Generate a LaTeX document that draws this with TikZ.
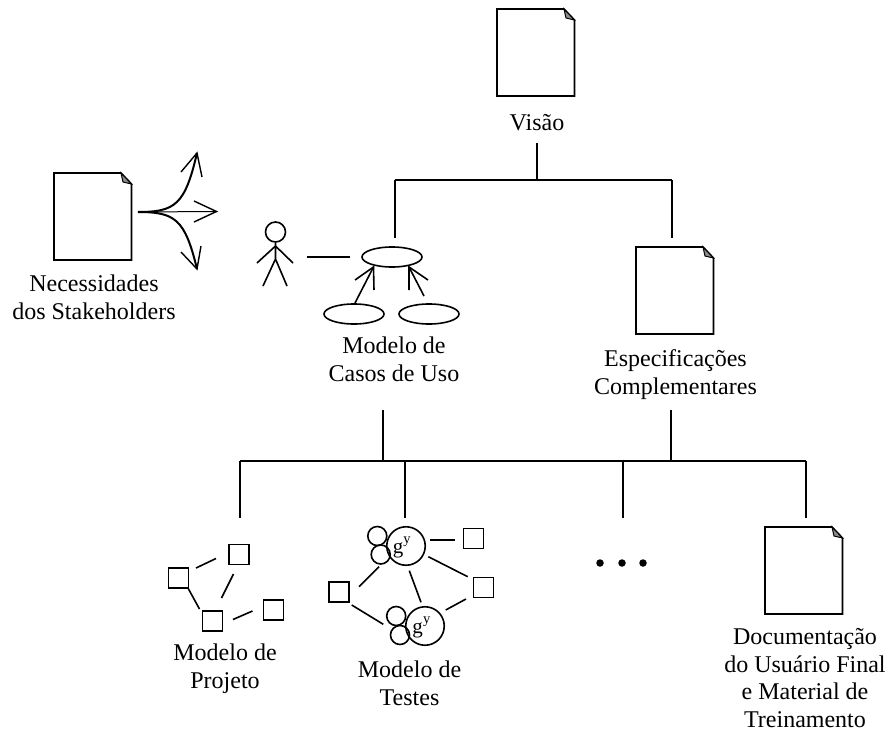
\documentclass[tikz,border=0pt]{standalone}
\usepackage{fontspec}
\setmainfont{Liberation Serif}
\begin{document}
\begin{tikzpicture}[x=1pt,y=-1pt,line width=1.6pt,
  lbl/.style={align=center,anchor=base,font=\fontsize{24}{27.7}\selectfont,inner sep=0pt},
  sq/.style={draw,minimum size=20pt,inner sep=0pt},
  dot/.style={circle,fill,inner sep=0pt,minimum size=7.5pt},
  lobe/.style={draw,circle,inner sep=0pt,minimum size=19pt},
  bigc/.style={draw,circle,inner sep=0pt,minimum size=38.5pt},
  gl/.style={anchor=base,font=\fontsize{21}{25}\selectfont,inner sep=0pt},
  yl/.style={anchor=base,font=\fontsize{14.5}{16}\selectfont,inner sep=0pt}]
\useasboundingbox (0,0) rectangle (887,731);
\newcommand{\docpage}[3]{%
  \coordinate (#3) at (#1,#2);
  \draw[fill=white,line join=miter] (#1,#2) -- ++(67,0) -- ++(10.5,11) -- ++(0,76) -- ++(-77.5,0) -- cycle;
  \draw[line width=1pt,fill=black!45] (#1+67,#2) -- (#1+69,#2+9) -- (#1+77.5,#2+11) -- cycle;
}
\docpage{497}{9}{dv}
\docpage{54}{173}{dn}
\docpage{636}{247}{de}
\docpage{765}{527}{dd}
\node[lbl] (visao) at (537,130) {Visão};
\node[lbl] (nec) at (94,319) {Necessidades\\dos Stakeholders};
\node[lbl] (mcu) at (394,381) {Modelo de\\Casos de Uso};
\node[lbl] (esp) at (675.5,394.5) {Especificações\\Complementares};
\node[lbl] (mp) at (225,688) {Modelo de\\Projeto};
\node[lbl] (mt) at (409.5,705.5) {Modelo de\\Testes};
\node[lbl] (doc) at (805,727.5) {Documentação\\do Usuário Final\\e Material de\\Treinamento};
% tree
\coordinate (a0) at (537,143); \coordinate (a1) at (537,180);
\coordinate (a2) at (395,180); \coordinate (a3) at (395,238);
\coordinate (a4) at (672,180); \coordinate (a5) at (672,238);
\draw (a0)--(a1) (a2)--(a4) (a2)--(a3) (a4)--(a5);
\coordinate (b0) at (383,410); \coordinate (b1) at (383,461);
\coordinate (c0) at (671,410); \coordinate (c1) at (671,461);
\coordinate (l) at (240,461); \coordinate (r) at (806,461);
\draw (b0)--(b1) (c0)--(c1) (l)--(r);
\foreach \x/\n in {240/p,405/q,623/s,806/t}{
  \coordinate (\n1) at (\x,461); \coordinate (\n2) at (\x,518);
  \draw (\n1)--(\n2);}
% fan of arrows
\coordinate (f0) at (138,212);
\coordinate (fu) at (197,153); \coordinate (fm) at (216.5,211.5); \coordinate (fd) at (197,269);
\draw[line width=2pt] (f0) .. controls (175,212) and (185,205) .. (fu);
\draw[line width=2pt] (f0) .. controls (175,212) and (185,219) .. (fd);
\draw[line width=1pt] (f0) -- (fm);
\draw[line width=1.4pt] (181,172)--(fu)--(202,177);
\draw[line width=1.4pt] (194,201)--(fm)--(194,222);
\draw[line width=1.4pt] (181,252)--(fd)--(201,246);
% actor
\node[draw,circle,minimum size=20pt,inner sep=0pt] (head) at (275.5,232) {};
\coordinate (neck) at (275.5,246); \coordinate (hip) at (275.5,259);
\coordinate (al) at (257,263); \coordinate (ar) at (293,263);
\coordinate (ll) at (263,286); \coordinate (lr) at (287,286);
\draw (head.south)--(hip) (al)--(neck)--(ar) (ll)--(hip)--(lr);
\coordinate (la) at (307,257); \coordinate (lb) at (350,257);
\draw (la)--(lb);
% use cases
\draw (392,257) ellipse (30 and 10);
\draw (354,314) ellipse (30 and 10);
\draw (429,314) ellipse (30 and 10);
\coordinate (u1) at (355,303); \coordinate (v1) at (373.5,267);
\coordinate (u2) at (424,296); \coordinate (v2) at (409,267);
\draw (u1)--(v1) (u2)--(v2);
\draw (355,280)--(v1)--(374,290);
\draw (409,290)--(v2)--(428,280);
% Modelo de Projeto
\node[sq] (p1) at (178.5,578) {};
\node[sq] (p2) at (239,554.5) {};
\node[sq] (p3) at (212.5,621) {};
\node[sq] (p4) at (273.5,610) {};
\draw (196,568)--(216,558.5);
\draw (233.5,574)--(221.5,598);
\draw (188.5,589)--(199.5,609);
\draw (233,619.5)--(252.5,611);
% Modelo de Testes
\node[lobe] (s1) at (377.3,536) {};
\node[lobe] (s2) at (380.7,554.5) {};
\node[bigc] (g1) at (406,546) {};
\node[gl] (g1g) at (398,553) {g};
\node[yl] (g1y) at (407,543) {y};
\node[lobe] (s3) at (396.2,616) {};
\node[lobe] (s4) at (400,635) {};
\node[bigc] (g2) at (425,626) {};
\node[gl] (g2g) at (417.7,633.5) {g};
\node[yl] (g2y) at (426.7,623.5) {y};
\node[sq] (t1) at (473.3,538.3) {};
\node[sq] (t2) at (483.3,587.3) {};
\node[sq] (t3) at (339,592) {};
\draw (430,540)--(455,540);
\draw (428.3,556.7)--(467.7,576.7);
\draw (379,566.7)--(359,586.7);
\draw (409.3,570.7)--(421,602.3);
\draw (466,599)--(445.7,610);
\draw (351.7,605)--(383.3,624.3);
% dots
\node[dot] (d1) at (600,563) {};
\node[dot] (d2) at (622,563) {};
\node[dot] (d3) at (643,563) {};
\end{tikzpicture}
\end{document}
